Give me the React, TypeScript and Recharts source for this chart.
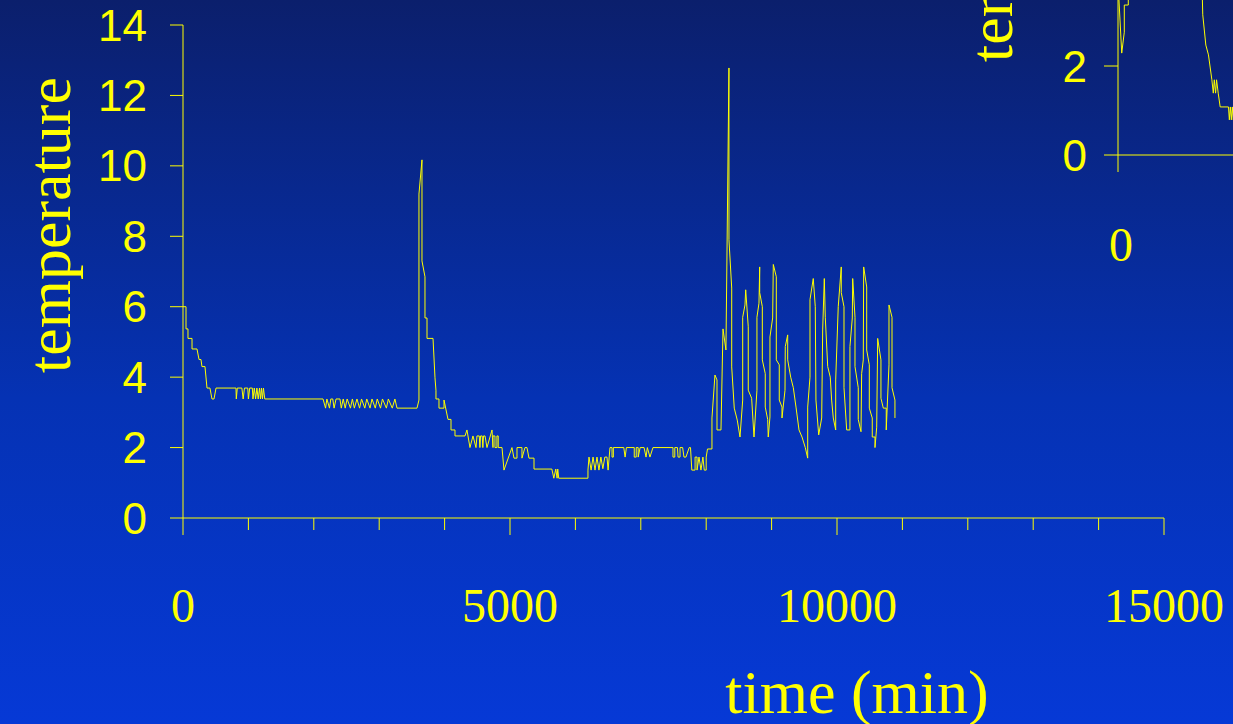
import { Line, LineChart, XAxis, YAxis } from "recharts";

const YELLOW = "#ffff00";
const SERIF = "'Liberation Serif', 'Times New Roman', serif";
const SANS = "'Liberation Sans', Arial, sans-serif";

// main run: [time (min), temperature]
const cooldown: [number, number][] = [
  [0, 6.0], [46, 6.0], [46, 5.37], [76, 5.37], [76, 5.1], [138, 5.1], [138, 4.8], [214, 4.8],
  [245, 4.5], [275, 4.5], [290, 4.3], [336, 4.3], [367, 3.69], [412, 3.69], [443, 3.38],
  [474, 3.38], [505, 3.69], [810, 3.69],
];
const plateau1: [number, number][] = [
  [815, 3.38], [830, 3.69], [900, 3.69], [920, 3.38], [940, 3.69], [990, 3.69], [1000, 3.38],
  [1020, 3.69], [1060, 3.69], [1070, 3.38], [1090, 3.69], [1110, 3.38], [1130, 3.69],
  [1150, 3.38], [1170, 3.69], [1185, 3.38], [1200, 3.69], [1215, 3.38], [1230, 3.69],
  [1250, 3.38], [1269, 3.38], [2141, 3.38],
];
const plateau2: [number, number][] = [
  [2180, 3.12], [2200, 3.38], [2240, 3.12], [2260, 3.38], [2290, 3.38], [2310, 3.12],
  [2340, 3.38], [2400, 3.38], [2420, 3.12], [2450, 3.38], [2480, 3.12], [2510, 3.38],
  [2560, 3.12], [2590, 3.38], [2620, 3.12], [2660, 3.38], [2700, 3.12], [2730, 3.38],
  [2780, 3.12], [2810, 3.38], [2860, 3.12], [2890, 3.38], [2940, 3.12], [2970, 3.38],
  [3020, 3.12], [3050, 3.38], [3110, 3.12], [3140, 3.38], [3200, 3.12], [3240, 3.38],
  [3272, 3.12], [3578, 3.12],
];
const spike1: [number, number][] = [
  [3608, 3.35], [3608, 9.2], [3654, 10.17], [3654, 7.3], [3700, 6.85], [3700, 5.68],
  [3731, 5.68], [3731, 5.1], [3823, 5.1], [3853, 3.98], [3868, 3.63], [3868, 3.38],
  [3914, 3.38], [3914, 3.12], [3991, 3.12], [3991, 3.35], [4052, 2.8], [4098, 2.8],
  [4098, 2.5], [4159, 2.5], [4159, 2.33], [4312, 2.33],
];
const lowA: [number, number][] = [
  [4342, 2.5], [4388, 2.0], [4434, 2.33], [4480, 2.0], [4495, 2.33], [4530, 2.33], [4540, 2.0],
  [4550, 2.33], [4575, 2.33], [4585, 2.0], [4595, 2.33], [4618, 2.33], [4648, 2.0], [4725, 2.5],
  [4740, 2.0], [4740, 2.33], [4770, 2.33], [4770, 2.0], [4800, 2.0], [4800, 2.33], [4820, 2.33],
  [4820, 2.0], [4878, 2.0], [4908, 1.36], [5030, 2.0], [5061, 1.7], [5107, 1.7], [5107, 2.0],
  [5183, 2.0], [5183, 1.7], [5229, 2.0], [5260, 2.0], [5290, 1.7], [5367, 1.7], [5367, 1.39],
  [5640, 1.39], [5670, 1.13], [5700, 1.39], [5720, 1.13], [5730, 1.39], [5745, 1.13],
  [6192, 1.13], [6192, 1.36],
];
const lowB: [number, number][] = [
  [6208, 1.73], [6240, 1.36], [6270, 1.73], [6300, 1.36], [6330, 1.73], [6360, 1.36],
  [6390, 1.73], [6420, 1.4], [6450, 1.73], [6483, 1.73], [6500, 1.36], [6529, 2.0],
  [6560, 2.0], [6560, 1.73], [6580, 1.73], [6580, 2.0], [6740, 2.0], [6760, 1.73], [6780, 2.0],
  [6900, 2.0], [6900, 1.73], [6930, 1.73], [6930, 2.0], [6960, 2.0], [6960, 1.73], [6990, 2.0],
  [7050, 2.0], [7080, 1.73], [7100, 2.0], [7140, 1.73], [7186, 2.0], [7492, 2.0], [7492, 1.73],
  [7520, 1.73], [7520, 2.0], [7560, 2.0], [7570, 1.73], [7600, 1.73], [7600, 2.0], [7640, 2.0],
  [7660, 1.73], [7690, 1.73], [7740, 2.0], [7760, 2.0], [7780, 1.36], [7830, 1.36],
  [7830, 1.73], [7860, 1.73], [7860, 1.36], [7890, 1.73], [7920, 1.36], [7950, 1.73],
  [7970, 1.36], [8000, 1.36], [8000, 1.73], [8020, 1.96], [8088, 1.96],
];
const burst1: [number, number][] = [
  [8088, 2.84], [8134, 4.06], [8165, 3.92], [8165, 2.5], [8226, 2.5], [8257, 5.37],
  [8302, 4.77], [8348, 12.78], [8348, 7.9], [8390, 6.53], [8390, 4.29], [8429, 3.12],
  [8475, 2.78], [8517, 2.3], [8558, 3.35], [8558, 5.7], [8593, 6.05], [8604, 6.48],
  [8643, 5.43], [8643, 3.63], [8695, 3.4], [8731, 2.3], [8776, 3.63], [8776, 5.7], [8807, 6.1],
  [8818, 7.13], [8818, 6.4], [8858, 6.0], [8858, 4.49], [8903, 4.1], [8903, 3.15], [8940, 2.8],
  [8949, 2.3], [8975, 2.87], [8975, 5.14], [9016, 5.68], [9026, 7.2], [9072, 6.85],
  [9072, 4.49], [9117, 4.35], [9117, 3.35], [9159, 3.15], [9159, 2.84],
];
const burst2: [number, number][] = [
  [9205, 3.63], [9209, 4.87], [9246, 5.2], [9246, 4.49], [9292, 4.0], [9332, 3.7], [9373, 3.15],
  [9419, 2.5], [9465, 2.3], [9515, 2.0], [9552, 1.7], [9552, 3.15], [9587, 4.0], [9587, 6.2],
  [9637, 6.8], [9668, 6.0], [9678, 3.35], [9720, 2.36], [9766, 2.84], [9781, 5.34],
  [9806, 6.8], [9821, 5.7], [9858, 4.3], [9897, 4.0], [9918, 3.35], [9943, 2.84], [9980, 2.5],
  [9980, 3.92], [10019, 6.0], [10065, 7.13], [10065, 6.4], [10107, 6.0], [10107, 3.7],
  [10148, 2.5], [10198, 2.5], [10198, 4.87], [10234, 5.68], [10240, 6.8], [10275, 5.7],
  [10275, 4.3], [10325, 3.7], [10325, 2.8], [10367, 2.45], [10377, 4.1], [10402, 4.49],
  [10408, 7.13], [10454, 6.56], [10454, 4.77], [10494, 4.35], [10494, 3.12], [10539, 2.84],
  [10539, 2.3], [10581, 2.3], [10581, 2.0], [10607, 2.58], [10622, 5.1], [10672, 4.49],
  [10672, 3.4], [10708, 3.12], [10753, 3.12], [10753, 2.5], [10795, 4.35], [10795, 6.05],
  [10841, 5.7], [10841, 3.7], [10886, 3.35], [10886, 2.84],
];

// second (cut-off) chart on the right edge of the slide
const insetStart: [number, number][] = [
  [0, 3.9], [57, 2.29], [96, 2.76], [96, 3.37], [157, 3.37], [157, 4.2], [500, 4.6], [900, 4.3],
  [1280, 4.0],
];
const insetDrop: [number, number][] = [
  [1294, 3.15], [1341, 2.47], [1381, 2.25], [1433, 1.69], [1455, 1.39], [1470, 1.69],
  [1490, 1.39], [1505, 1.69], [1530, 1.39], [1560, 1.08], [1687, 1.08], [1700, 0.79],
  [1715, 1.08], [1730, 0.79], [1745, 1.08], [1760, 0.79], [1790, 1.08],
];

const mainTicksX = [0, 1000, 2000, 3000, 4000, 5000, 6000, 7000, 8000, 9000, 10000, 11000, 12000, 13000, 14000, 15000];
const mainTicksY = [0, 2, 4, 6, 8, 10, 12, 14];
const insetTicksY = [0, 2];

const toRows = (parts: [number, number][][]) =>
  parts.flat().map(([t, v]) => ({ t, v }));

const mainData = toRows([cooldown, plateau1, plateau2, spike1, lowA, lowB, burst1, burst2]);
const insetData = toRows([insetStart, insetDrop]);

const TimeTick = (props: any) => {
  const { x, y, payload } = props;
  const major = payload.value % 5000 === 0;
  return (
    <g>
      <line x1={x} y1={y} x2={x} y2={y + (major ? 17 : 12)} stroke={YELLOW} strokeWidth={1} />
      {major && (
        <text x={x} y={y + 104} textAnchor="middle" fill={YELLOW} fontFamily={SERIF} fontSize={48}>
          {payload.value}
        </text>
      )}
    </g>
  );
};

const rotatedTitle = (left: number, top: number) => ({
  position: "absolute" as const,
  left,
  top,
  transform: "translate(-50%, -50%) rotate(-90deg)",
  fontFamily: SERIF,
  fontSize: 62,
  lineHeight: "62px",
  color: YELLOW,
  whiteSpace: "nowrap" as const,
});

export default function App() {
  return (
    <div
      style={{
        position: "fixed",
        left: 0,
        top: 0,
        width: 1233,
        height: 724,
        overflow: "hidden",
        background: "linear-gradient(180deg, #0b1f6c 0%, #0532b4 55%, #0639d6 100%)",
      }}
    >
      <div style={{ position: "absolute", left: 0, top: 0 }}>
        <LineChart width={1233} height={724} data={mainData} margin={{ top: 25, right: 69, bottom: 146, left: 0 }}>
          <XAxis
            dataKey="t"
            type="number"
            domain={[0, 15000]}
            ticks={mainTicksX}
            interval={0}
            height={60}
            tickSize={0}
            tickMargin={0}
            tickLine={false}
            axisLine={{ stroke: YELLOW, strokeWidth: 1 }}
            tick={<TimeTick />}
          />
          <YAxis
            type="number"
            domain={[0, 14]}
            ticks={mainTicksY}
            interval={0}
            width={183}
            tickSize={13}
            tickMargin={23}
            axisLine={{ stroke: YELLOW, strokeWidth: 1 }}
            tickLine={{ stroke: YELLOW, strokeWidth: 1 }}
            tick={{ fill: YELLOW, fontFamily: SANS, fontSize: 44 }}
          />
          <Line type="linear" dataKey="v" stroke={YELLOW} strokeWidth={1} dot={false} isAnimationActive={false} />
        </LineChart>
      </div>

      <div style={{ position: "absolute", left: 1000, top: -130 }}>
        <LineChart width={249} height={405} data={insetData} margin={{ top: 18, right: 0, bottom: 0, left: 0 }}>
          <XAxis
            dataKey="t"
            type="number"
            domain={[0, 2000]}
            ticks={[0]}
            interval={0}
            height={120}
            tickSize={0}
            tickMargin={0}
            tickLine={false}
            axisLine={{ stroke: YELLOW, strokeWidth: 1 }}
            tick={(p: any) => (
              <g>
                <line x1={p.x} y1={p.y} x2={p.x} y2={p.y + 17} stroke={YELLOW} strokeWidth={1} />
                <text x={p.x + 3} y={p.y + 106} textAnchor="middle" fill={YELLOW} fontFamily={SERIF} fontSize={48}>
                  {p.payload.value}
                </text>
              </g>
            )}
          />
          <YAxis
            type="number"
            domain={[0, 6]}
            ticks={insetTicksY}
            interval={0}
            width={118}
            tickSize={14}
            tickMargin={17}
            axisLine={{ stroke: YELLOW, strokeWidth: 1 }}
            tickLine={{ stroke: YELLOW, strokeWidth: 1 }}
            tick={{ fill: YELLOW, fontFamily: SANS, fontSize: 44 }}
          />
          <Line type="linear" dataKey="v" stroke={YELLOW} strokeWidth={1} dot={false} isAnimationActive={false} />
        </LineChart>
      </div>

      <div style={rotatedTitle(49, 225)}>temperature</div>
      <div style={rotatedTitle(991, -86)}>temperature</div>
      <div
        style={{
          position: "absolute",
          left: 857,
          top: 661,
          transform: "translateX(-50%)",
          fontFamily: SERIF,
          fontSize: 62,
          lineHeight: "62px",
          color: YELLOW,
          whiteSpace: "nowrap",
        }}
      >
        time (min)
      </div>
    </div>
  );
}
